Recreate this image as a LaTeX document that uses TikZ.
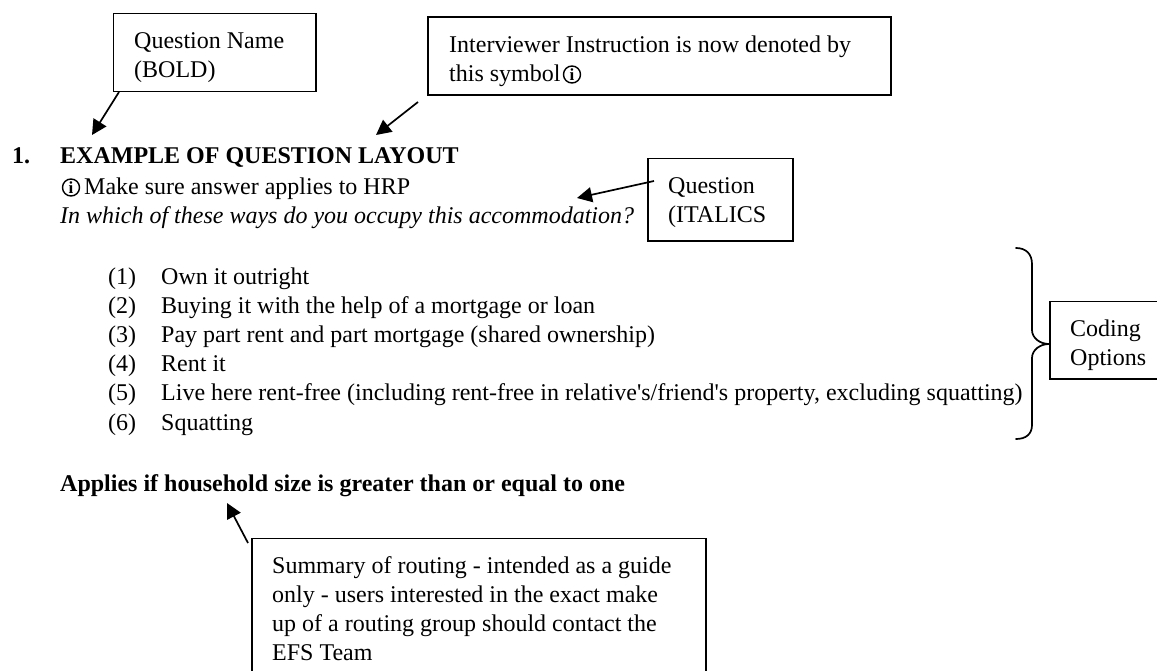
\documentclass[tikz,border=0pt]{standalone}
\usepackage{fontspec}
\setmainfont{Liberation Serif}
\newfontfamily\plainserif{Liberation Serif}
\usetikzlibrary{arrows.meta}
\tikzset{
  x=1pt,y=-1pt,
  callout/.style={draw=black,line width=1.8pt},
  txt/.style={anchor=base west,inner sep=0pt,font=\fontsize{24}{29}\selectfont},
  boldtxt/.style={txt,font=\fontsize{24}{29}\selectfont\bfseries},
  italtxt/.style={txt,font=\fontsize{24}{29}\selectfont\itshape},
  infomark/.style={circle,draw=black,line width=1.4pt,inner sep=0pt,minimum size=17pt,font=\fontsize{17}{17}\selectfont\bfseries},
  pointer/.style={draw=black,line width=1.7pt,-{Triangle[length=15pt,width=15pt]}},
  bracepath/.style={draw=black,line width=1.7pt,line cap=round}
}
\begin{document}
\begin{tikzpicture}
\useasboundingbox (0,0) rectangle (1157,670);
% callout boxes (the last two run off the page)
\draw[callout] (113.5,13.5) rectangle (316,91.5);
\draw[callout] (428,17) rectangle (891,95);
\draw[callout] (648,158.5) rectangle (793,241);
\draw[callout] (1050,301.5) rectangle (1165,379);
\draw[callout] (252,538.5) rectangle (706,680);
% callout text
\node[txt] (qn1) at (134,48) {Question Name};
\node[txt] (qn2) at (134,77.5) {(BOLD)};
\node[txt] (ii1) at (449,52) {Interviewer Instruction is now denoted by};
\node[txt] (ii2) at (449,81.5) {this symbol};
\node[infomark] (ii3) at (572,74.5) {i};
\node[txt] (qi1) at (668,193) {Question};
\node[txt] (qi2) at (668,222) {(ITALICS};
\node[txt] (co1) at (1070,336) {Coding};
\node[txt] (co2) at (1070,365) {Options};
\node[txt] (su1) at (272,573) {Summary of routing - intended as a guide};
\node[txt] (su2) at (272,602) {only - users interested in the exact make};
\node[txt] (su3) at (272,631) {up of a routing group should contact the};
\node[txt] (su4) at (272,660) {EFS Team};
% main text
\node[boldtxt] (num) at (12,163) {1.};
\node[boldtxt] (head) at (60,163) {EXAMPLE OF QUESTION LAYOUT};
\node[infomark] (instrmark) at (71,187.5) {i};
\node[txt] (instr) at (84,194) {Make sure answer applies to HRP};
\node[italtxt] (quest) at (60,223) {In which of these ways do you occupy this accommodation?};
\foreach \n/\y/\t in {1/284/Own it outright,
  2/313.2/Buying it with the help of a mortgage or loan,
  3/342.4/Pay part rent and part mortgage (shared ownership),
  4/371.6/Rent it,
  5/400.8/{Live here rent-free (including rent-free in relative{\plainserif '}s/friend{\plainserif '}s property, excluding squatting)},
  6/430/Squatting}{
  \node[txt] (c\n) at (108,\y) {(\n)};
  \node[txt] (o\n) at (161,\y) {\t};
}
\node[boldtxt] (route) at (60,491) {Applies if household size is greater than or equal to one};
% pointers
\coordinate (p1a) at (119,92); \coordinate (p1b) at (92,135);
\coordinate (p2a) at (418,102); \coordinate (p2b) at (376,135);
\coordinate (p3a) at (654,181); \coordinate (p3b) at (577,198);
\coordinate (p4a) at (248,543); \coordinate (p4b) at (227,503);
\draw[pointer] (p1a) -- (p1b);
\draw[pointer] (p2a) -- (p2b);
\draw[pointer] (p3a) -- (p3b);
\draw[pointer] (p4a) -- (p4b);
% brace
\draw[bracepath] (1016,248) .. controls (1026,248) and (1032,254) .. (1032,264)
  -- (1032,330) .. controls (1032,338) and (1040,344) .. (1049,344)
  .. controls (1040,344) and (1032,350) .. (1032,358)
  -- (1032,425) .. controls (1032,434) and (1026,439) .. (1016,439);
\end{tikzpicture}
\end{document}
